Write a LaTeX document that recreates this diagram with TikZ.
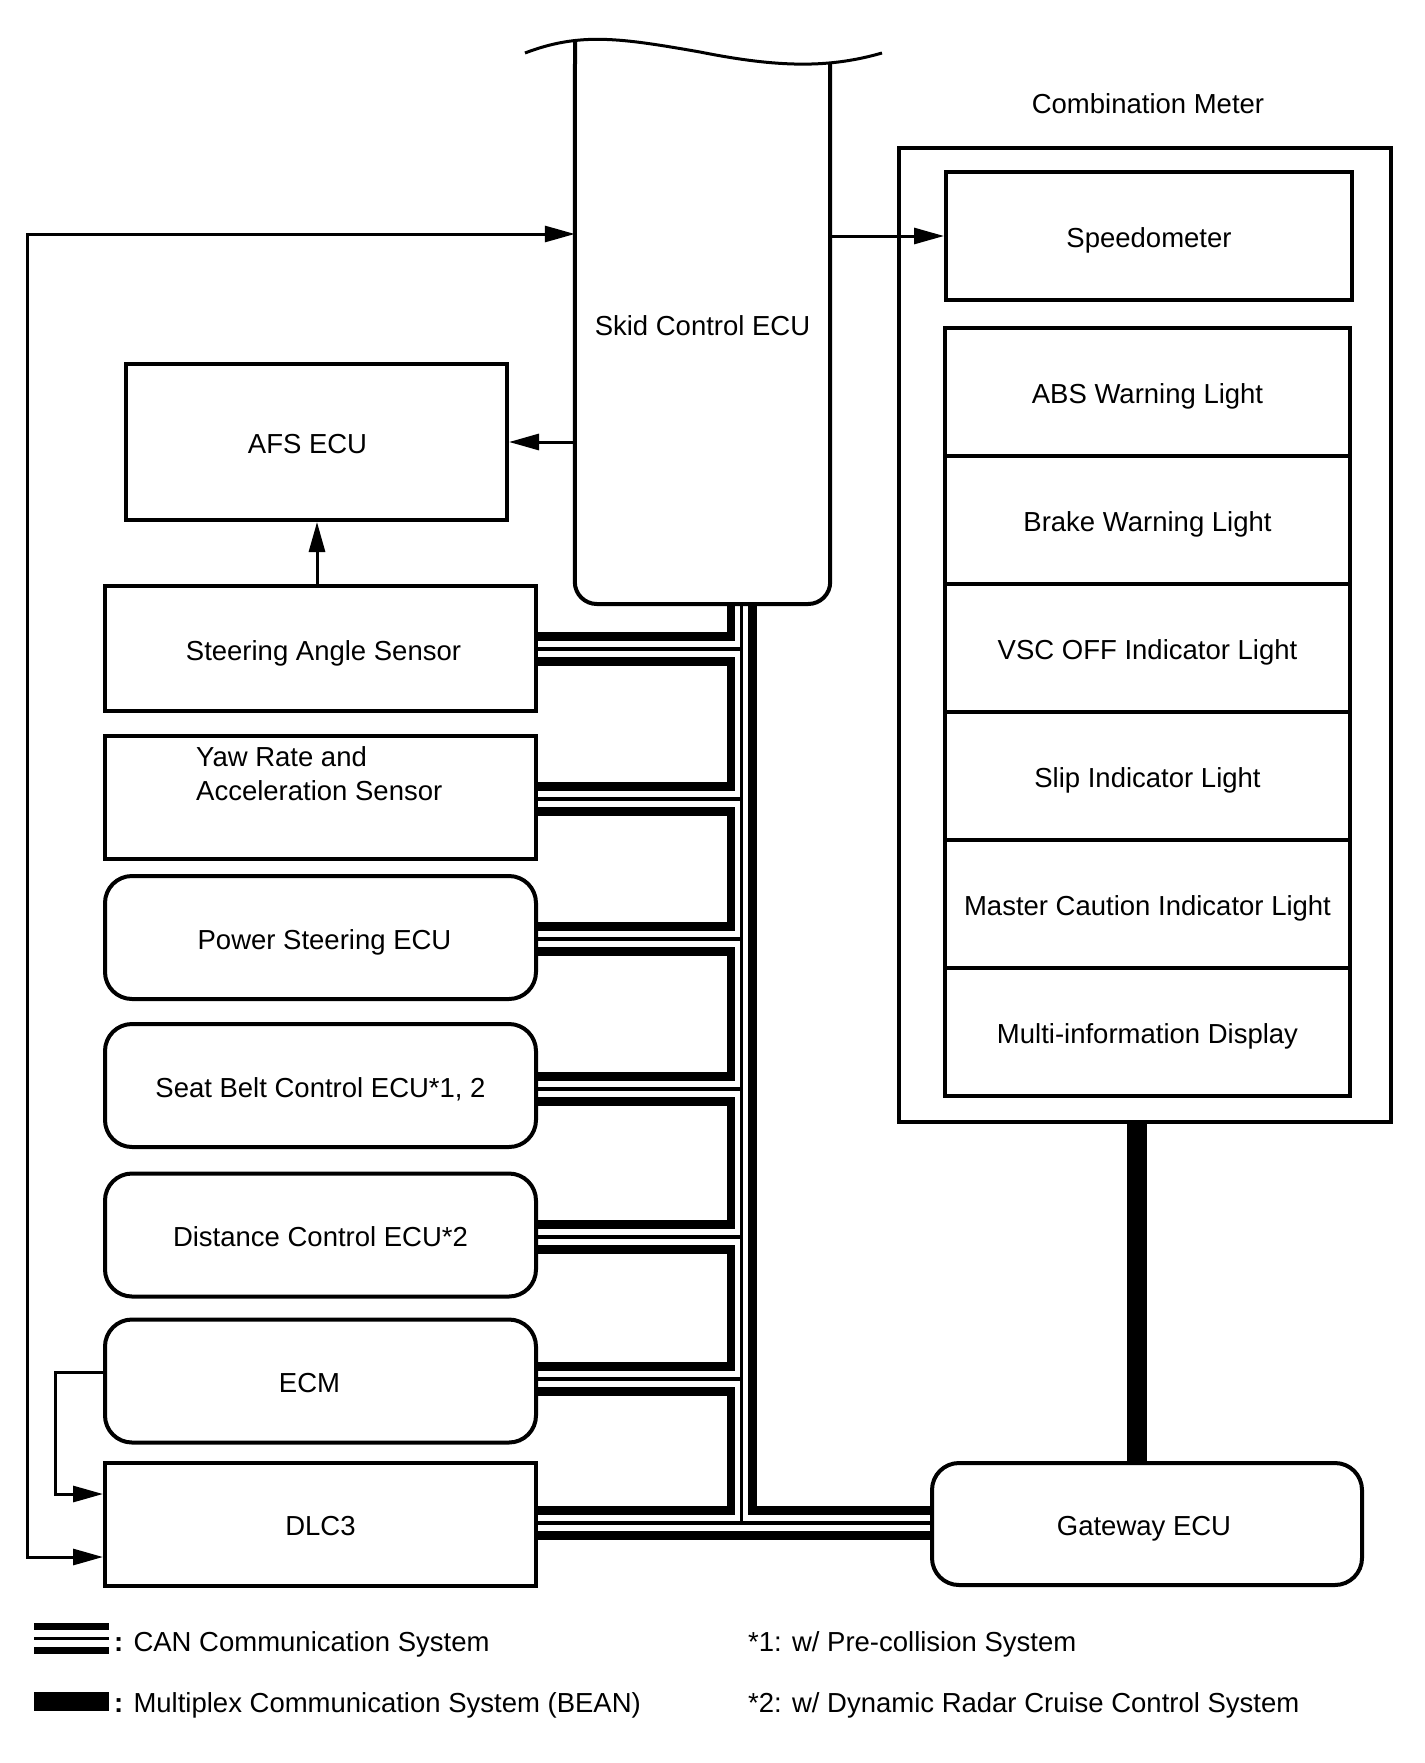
\documentclass[tikz,border=0pt]{standalone}
\usepackage{fontspec}
\setmainfont{Liberation Sans}
\usetikzlibrary{arrows.meta}
\begin{document}
\begin{tikzpicture}[x=1pt,y=-1pt,
  every node/.style={font=\fontsize{27.5}{33}\selectfont, inner sep=0pt},
  txt/.style={text height=23pt, text depth=0pt},
  box/.style={draw, line width=4pt, minimum width=431pt, minimum height=123pt, txt},
  rbox/.style={box, rounded corners=27pt},
  cell/.style={draw, line width=4pt, minimum width=405pt, minimum height=128pt, txt},
  conn/.style={line width=3pt},
  arr/.style={conn, -{Triangle[length=30pt,width=16pt]}},
  canK/.style={line width=8.5pt, line cap=butt, line join=miter},
  canN/.style={line width=3.5pt, line cap=butt},
  bean/.style={line width=20pt, line cap=butt}]
\fill[white] (0,0) rectangle (1424,1763);
\useasboundingbox (0,0) rectangle (1424,1763);

% Skid Control ECU
\node[minimum width=255pt, minimum height=564pt, txt] (skid) at (702.5,324) {Skid Control ECU};
\draw[line width=4pt, rounded corners=22pt] (575,40) -- (skid.south west |- 0,604) -- (skid.south east |- 0,604) -- (skid.east |- 0,63);
\draw[line width=3pt] (525,53) .. controls (580,32) and (620,38) .. (700,52) .. controls (780,68) and (830,68) .. (882,53);

% left column
\node[box, minimum width=381pt, minimum height=156pt] (afs) at (316.5,442) {};
\node[txt] (afstext) at ([xshift=-9pt]afs.center) {AFS ECU};
\node[box, minimum height=125pt] (steer) at (320.5,648.5) {};
\node[txt] (steertext) at ([xshift=3pt]steer.center) {Steering Angle Sensor};
\node[box] (yaw) at (320.5,797.5) {};
\node[anchor=base west] (yawA) at (196,766) {Yaw Rate and};
\node[anchor=base west] (yawB) at (196,800) {Acceleration Sensor};
\node[rbox] (pse) at (320.5,937.5) {};
\node[txt] (psetext) at ([xshift=4pt]pse.center) {Power Steering ECU};
\node[rbox] (seat) at (320.5,1085.5) {Seat Belt Control ECU*1, 2};
\node[rbox] (dist) at (320.5,1235) {Distance Control ECU*2};
\node[rbox] (ecm) at (320.5,1381) {};
\node[txt] (ecmtext) at ([xshift=-11pt]ecm.center) {ECM};
\node[box] (dlc) at (320.5,1524) {DLC3};

% combination meter
\node (cmlabel) at (1148,104) {Combination Meter};
\node[draw, line width=4pt, minimum width=492pt, minimum height=974pt] (meter) at (1145,635) {};
\node[draw, line width=4pt, minimum width=406pt, minimum height=128pt, txt] (speedo) at (1149,236) {Speedometer};
\node[cell] (abs) at (1147.5,392) {ABS Warning Light};
\node[cell] (brake) at (1147.5,520) {Brake Warning Light};
\node[cell] (vsc) at (1147.5,648) {VSC OFF Indicator Light};
\node[cell] (slip) at (1147.5,776) {Slip Indicator Light};
\node[cell] (master) at (1147.5,904) {Master Caution Indicator Light};
\node[cell] (mid) at (1147.5,1032) {Multi-information Display};

% gateway
\node[rbox, minimum width=430pt, minimum height=122pt] (gw) at (1147,1524) {};
\node[txt] (gwtext) at ([xshift=-3pt]gw.center) {Gateway ECU};

% plain connectors
\draw[arr] (skid.west |- afs.east) -- (afs.east);
\draw[arr] (steer.north -| 317,0) -- (afs.south -| 317,0);
\draw[arr] (skid.east |- speedo.west) -- (speedo.west);
\coordinate (lpA) at (27,234);
\coordinate (lpB) at (27,1557);
\draw[conn, {Triangle[length=30pt,width=16pt]}-{Triangle[length=30pt,width=16pt]}] (skid.west |- lpA) -- (lpA) -- (lpB) -- (dlc.west |- lpB);
\coordinate (ecA) at (55,1372);
\coordinate (ecB) at (55,1494);
\draw[arr] (ecm.west |- ecA) -- (ecA) -- (ecB) -- (dlc.west |- ecB);

% BEAN
\draw[bean] (1137,0 |- meter.south) -- (1137,0 |- gw.north);

% CAN network
\draw[canK] (skid.south -| 731,0) |- (steer.east |- 0,636.5);
\foreach \a/\b/\ya/\yb in {steer/yaw/661.5/786.5, yaw/pse/811.5/926.5, pse/seat/951.5/1076.5, seat/dist/1101.5/1224.5, dist/ecm/1249.5/1366.5, ecm/dlc/1391.5/1510.5}
  \draw[canK] (\a.east |- 0,\ya) -| (731,\yb) -- (\b.east |- 0,\yb);
\draw[canK] (skid.south -| 752.5,0) |- (gw.west |- 0,1510.5);
\draw[canN] (skid.south -| 741.5,0) -- (741.5,1523);
\foreach \n/\c in {steer/649, yaw/799, pse/939, seat/1089, dist/1237, ecm/1379}
  \draw[canN] (\n.east |- 0,\c) -- (741.5,\c);
\draw[canN] (dlc.east |- 0,1523) -- (gw.west |- 0,1523);
\draw[canK] (dlc.east |- 0,1535.5) -- (gw.west |- 0,1535.5);

% legend
\draw[line width=7pt] (34,1626) -- (109,1626);
\draw[line width=3pt] (34,1638) -- (109,1638);
\draw[line width=7pt] (34,1650) -- (109,1650);
\draw[line width=19pt] (34,1701) -- (109,1701);
\node[anchor=base west] (lg1) at (114,1651) {\textbf{:} CAN Communication System};
\node[anchor=base west] (lg2) at (114,1712) {\textbf{:} Multiplex Communication System (BEAN)};
\node[anchor=base west] (n1) at (748,1651) {*1: w/ Pre-collision System};
\node[anchor=base west] (n2) at (748,1712) {*2: w/ Dynamic Radar Cruise Control System};
\end{tikzpicture}
\end{document}
